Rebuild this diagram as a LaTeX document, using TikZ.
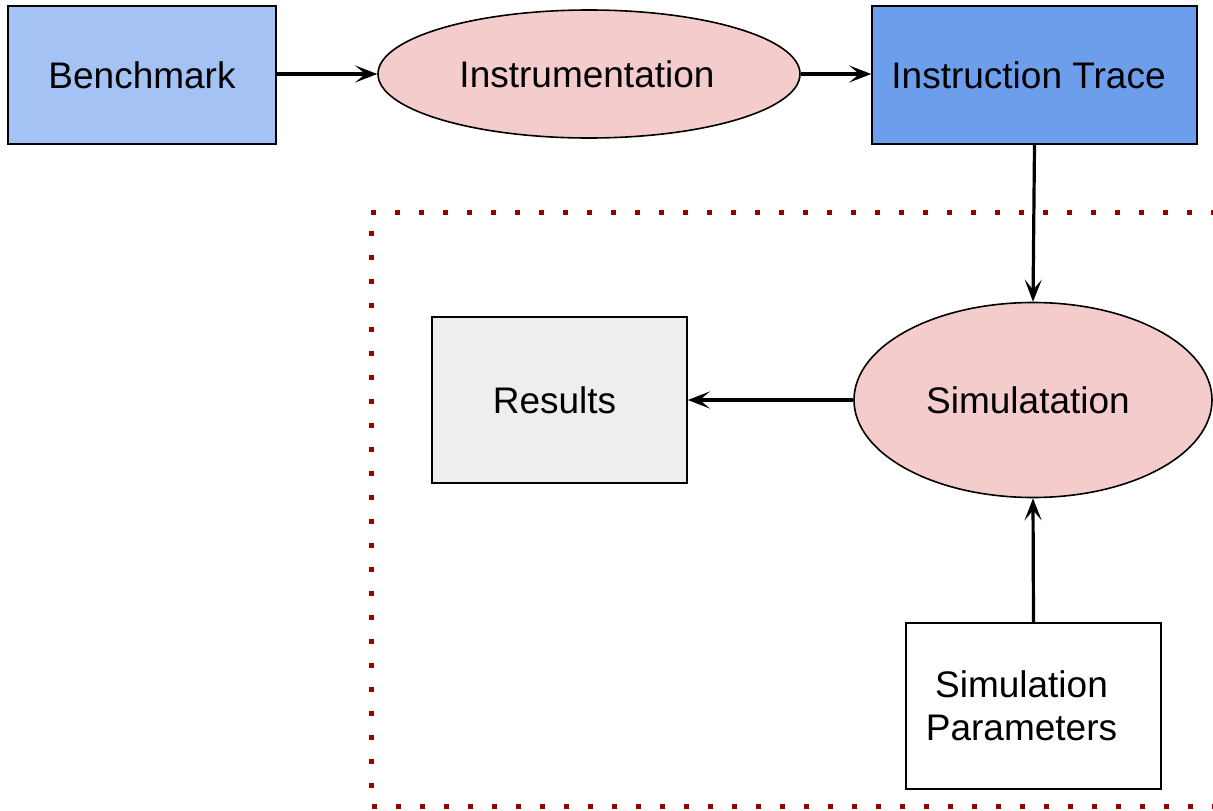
\documentclass[tikz,border=0pt]{standalone}
\usepackage{fontspec}
\setmainfont{Liberation Sans}
\usetikzlibrary{shapes.geometric,arrows.meta}
\definecolor{benchblue}{HTML}{A4C2F4}
\definecolor{traceblue}{HTML}{6D9EEB}
\definecolor{pinkfill}{HTML}{F4CCCC}
\definecolor{greyfill}{HTML}{EEEEEE}
\definecolor{dotred}{HTML}{990000}
\begin{document}
\begin{tikzpicture}[x=1pt,y=-1pt,
  box/.style={draw=black, line width=1.6pt, rectangle, inner sep=0pt},
  oval/.style={draw=black, line width=1.6pt, ellipse, inner sep=0pt},
  lab/.style={inner sep=0pt, align=center, font=\fontsize{37}{43}\selectfont},
  conn/.style={line width=3.2pt, -{Stealth[length=22pt,width=17pt,inset=10pt]}},
  frame/.style={draw=dotred, line width=5pt, dash pattern=on 5pt off 19pt}
]
\useasboundingbox (0,0) rectangle (1213,811);
\begin{scope}
\clip (0,0) rectangle (1213,811);
\draw[frame] (1240,212) -- (371,212) -- (371,806) -- (1240,806);
\node[oval, fill=pinkfill, minimum width=358pt, minimum height=195pt] (sim) at (1033,400) {};
\end{scope}
\node[box, fill=benchblue, minimum width=268pt, minimum height=138pt] (bench) at (142,75) {};
\node[oval, fill=pinkfill, minimum width=422pt, minimum height=128pt] (instr) at (589,74) {};
\node[box, fill=traceblue, minimum width=325pt, minimum height=138pt] (trace) at (1034.5,75) {};
\node[box, fill=greyfill, minimum width=255pt, minimum height=166pt] (res) at (559.5,400) {};
\node[box, fill=white, minimum width=255pt, minimum height=166pt] (params) at (1033.5,706) {};
\node[lab] (benchT) at (bench.center) {Benchmark};
\node[lab] (instrT) at ([xshift=-2pt]instr.center) {Instrumentation};
\node[lab] (traceT) at ([xshift=-6pt]trace.center) {Instruction Trace};
\node[lab] (simT) at ([xshift=-5pt]sim.center) {Simulatation};
\node[lab] (resT) at ([xshift=-5pt]res.center) {Results};
\node[lab] (paramsT) at ([xshift=-12pt]params.center) {Simulation\\Parameters};
\draw[conn] (bench.east |- 0,74) -- (instr.west);
\draw[conn] (instr.east) -- (trace.west |- 0,74);
\draw[conn] (trace.south) -- (sim.north);
\draw[conn] (sim.west) -- (res.east);
\draw[conn] (params.north) -- (sim.south);
\end{tikzpicture}
\end{document}
